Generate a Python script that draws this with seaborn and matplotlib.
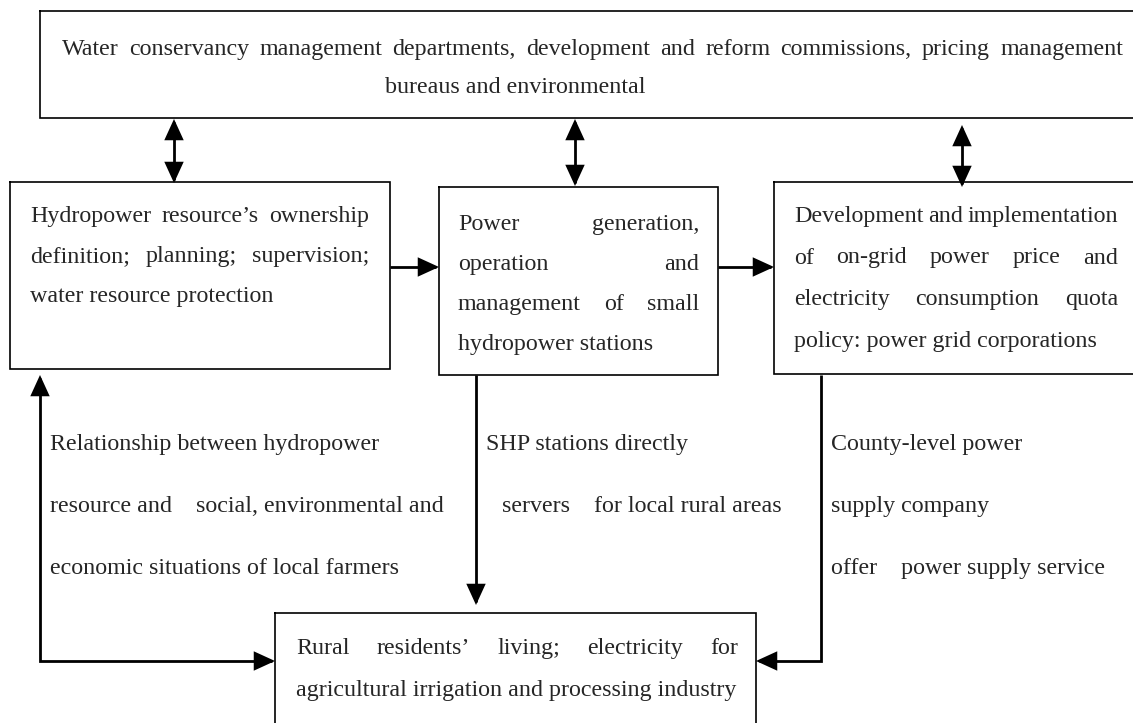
import matplotlib
matplotlib.use("Agg")
import matplotlib.pyplot as plt
from matplotlib.patches import FancyArrowPatch
from matplotlib.path import Path
import seaborn as sns

sns.set_style("white")
plt.rcParams["font.family"] = ["Liberation Serif", "DejaVu Serif"]

# ── Diagram text ──────────────────────────────────────────────────────
top_lines = [
    "Water conservancy management departments, development and reform commissions, pricing management",
    "bureaus and environmental",
]
left_lines = [
    "Hydropower resource’s ownership",
    "definition; planning; supervision;",
    "water resource protection",
]
mid_lines = [
    "Power generation,",
    "operation and",
    "management of small",
    "hydropower stations",
]
right_lines = [
    "Development and implementation",
    "of on-grid power price and",
    "electricity consumption quota",
    "policy: power grid corporations",
]
bottom_lines = [
    "Rural residents’ living; electricity for",
    "agricultural irrigation and processing industry",
]
rel_lines = [
    "Relationship between hydropower",
    "resource and    social, environmental and",
    "economic situations of local farmers",
]
shp_lines = ["SHP stations directly", "servers    for local rural areas"]
county_lines = ["County-level power", "supply company", "offer    power supply service"]

W, H = 1133, 723
fig = plt.figure(figsize=(W / 100, H / 100), dpi=100)
ax = fig.add_axes([0, 0, 1, 1])
ax.set_xlim(0, W)
ax.set_ylim(H, 0)
ax.axis("off")
renderer = fig.canvas.get_renderer()


def text_width(s, size):
    t = ax.text(0, 0, s, fontsize=size)
    bb = t.get_window_extent(renderer=renderer)
    t.remove()
    return bb.width


# font size picked so the plain label line spans ~348 px like the scan
FS = 10 * 348 / text_width(rel_lines[2], 10)
ARROW = "{},head_length=0.7,head_width=0.32"


def box(x0, y0, x1, y1):
    ax.plot([x0, x1, x1, x0, x0], [y0, y0, y1, y1, y0], color="black", lw=1.2,
            solid_joinstyle="miter")


def justify(line, x0, x1, y):
    words = line.split()
    widths = [text_width(w, FS) for w in words]
    gap = (x1 - x0 - sum(widths)) / (len(words) - 1)
    x = x0
    for w, wd in zip(words, widths):
        ax.text(x, y, w, fontsize=FS, va="baseline")
        x += wd + gap


def plain(line, x, y):
    ax.text(x, y, line, fontsize=FS, va="baseline")


def paragraph(lines, x0, x1, y0, step):
    # all lines justified except the last one
    for i, ln in enumerate(lines):
        y = y0 + step * i
        if i < len(lines) - 1:
            justify(ln, x0, x1, y)
        else:
            plain(ln, x0, y)


def connector(xs, ys, style="-|>"):
    verts = list(zip(xs, ys))
    codes = [Path.MOVETO] + [Path.LINETO] * (len(verts) - 1)
    ax.add_patch(FancyArrowPatch(path=Path(verts, codes),
                                 arrowstyle=ARROW.format(style),
                                 color="black", lw=2.0, mutation_scale=17,
                                 joinstyle="miter", capstyle="butt"))


# ── Boxes ─────────────────────────────────────────────────────────────
box(40, 11, 1145, 118)
box(10, 182, 390, 369)
box(439, 187, 718, 375)
box(774, 182, 1145, 374)
box(275, 613, 756, 740)

# ── Box texts ─────────────────────────────────────────────────────────
justify(top_lines[0], 62, 1123, 55)
plain(top_lines[1], 385, 93)

paragraph(left_lines, 30, 369, 222, 40)
paragraph(mid_lines, 458, 699, 230, 40)
paragraph(right_lines, 794, 1118, 222, 41.5)
paragraph(bottom_lines, 296, 738, 654, 42)

# ── Connector labels ──────────────────────────────────────────────────
for i, ln in enumerate(rel_lines):
    plain(ln, 50, 450 + 62 * i)
plain(shp_lines[0], 486, 450)
plain(shp_lines[1], 502, 512)
for i, ln in enumerate(county_lines):
    plain(ln, 831, 450 + 62 * i)

# ── Arrows ────────────────────────────────────────────────────────────
for xa, ya, yb in [(174, 119, 183), (575, 119, 186), (962, 125, 187)]:
    connector([xa, xa], [ya, yb], "<|-|>")

connector([390, 439], [267, 267])
connector([718, 774], [267, 267])

# left elbow: two heads, up into the left box and right into the bottom box
connector([40, 40, 275], [375, 661, 661], "<|-|>")
# middle: straight down
connector([476, 476], [375, 605])
# right elbow: down then left into the bottom box
connector([821, 821, 756], [375, 661, 661])

fig.savefig("out.png", dpi=100)
